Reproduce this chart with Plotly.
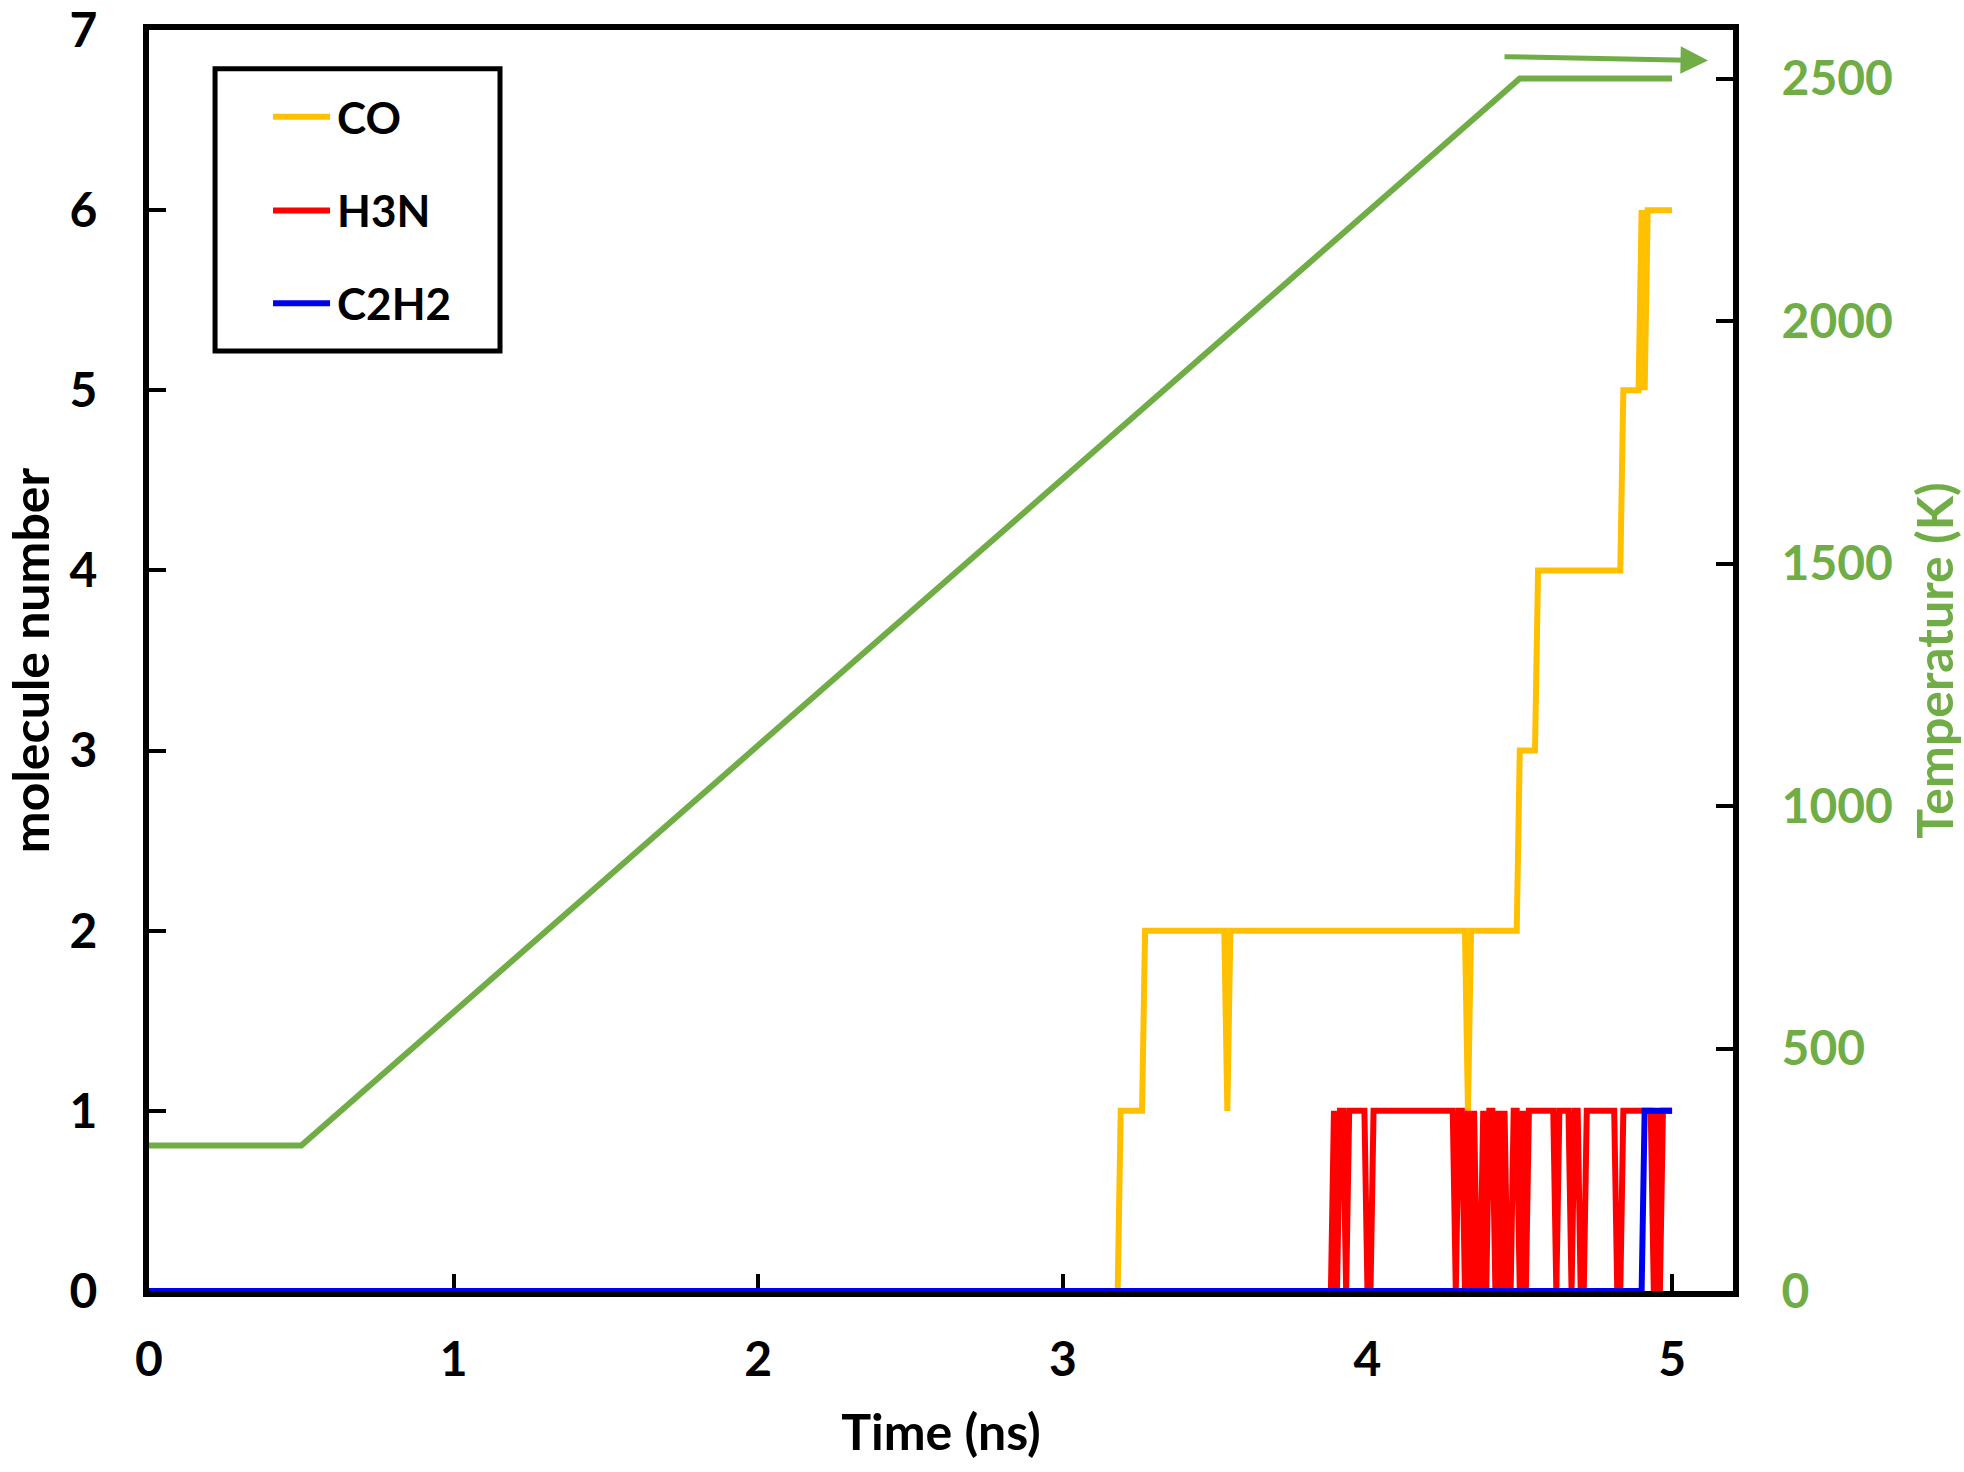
import plotly.graph_objects as go

# ---------------- data ----------------
temp_time = [0.0, 0.5, 4.5, 5.0]
temp_value = [300, 300, 2500, 2500]

co_time = [0.00, 3.18, 3.19, 3.26, 3.27, 3.53, 3.54, 3.55, 4.32, 4.33, 4.34,
           4.49, 4.50, 4.55, 4.56, 4.83, 4.84, 4.89, 4.90, 4.91, 4.92, 5.00]
co_value = [0, 0, 1, 1, 2, 2, 1, 2, 2, 1, 2,
            2, 3, 3, 4, 4, 5, 5, 6, 5, 6, 6]

h3n_time = [0.00, 3.88, 3.89, 3.90, 3.91, 3.92, 3.93, 3.94,
            3.99, 4.00, 4.01, 4.02,
            4.28, 4.29, 4.30,
            4.31, 4.32, 4.33, 4.34, 4.35, 4.36, 4.37, 4.38, 4.39, 4.40,
            4.41, 4.42, 4.43, 4.44, 4.45, 4.46, 4.47, 4.48,
            4.49, 4.50, 4.51, 4.52, 4.53,
            4.61, 4.62, 4.63,
            4.66, 4.67, 4.68, 4.69, 4.70, 4.71, 4.72,
            4.81, 4.82, 4.83, 4.84,
            4.93, 4.94, 4.95, 4.96, 4.97, 5.00]
h3n_value = [0, 0, 1, 0, 1, 1, 0, 1,
             1, 0, 0, 1,
             1, 0, 1,
             1, 0, 1, 0, 1, 0, 0, 1, 0, 1,
             1, 0, 1, 0, 1, 0, 0, 1,
             1, 0, 1, 0, 1,
             1, 0, 1,
             1, 0, 1, 1, 0, 0, 1,
             1, 0, 0, 1,
             1, 0, 1, 0, 1, 1]

c2h2_time = [0.00, 4.90, 4.91, 5.00]
c2h2_value = [0, 0, 1, 1]

series_names = ["CO", "H3N", "C2H2"]

x_ticks = [0, 1, 2, 3, 4, 5]
y_ticks = [0, 1, 2, 3, 4, 5, 6, 7]
t_ticks = [0, 500, 1000, 1500, 2000, 2500]

# ---------------- styles ----------------
GREEN = "#70AD47"
GOLD = "#FFC000"
RED = "#FF0000"
BLUE = "#0000F0"
FONT = "Lato"
LW = 6

def f(size, color="black"):
    return dict(family=FONT, size=size, color=color, weight="bold")

fig = go.Figure()
fig.add_trace(go.Scatter(x=temp_time, y=temp_value, mode="lines", yaxis="y2",
                         line=dict(color=GREEN, width=LW), showlegend=False,
                         name="Temperature"))
series = [(co_time, co_value, GOLD), (h3n_time, h3n_value, RED),
          (c2h2_time, c2h2_value, BLUE)]
for name, (tx, vy, col) in zip(series_names, series):
    fig.add_trace(go.Scatter(x=tx, y=vy, mode="lines", name=name,
                             line=dict(color=col, width=LW), showlegend=False))

# arrow pointing to the right (temperature) axis
fig.add_annotation(x=5.118, y=2537, ax=4.445, ay=2545, xref="x", yref="y2",
                   axref="x", ayref="y2", text="", showarrow=True,
                   arrowhead=2, arrowsize=1.1, arrowwidth=5, arrowcolor=GREEN)

# legend box (drawn manually to match the boxed Excel-style legend)
fig.add_shape(type="rect", xref="paper", yref="paper",
              x0=0.0417, x1=0.2216, y0=0.7455, y1=0.9692,
              line=dict(color="black", width=5), fillcolor="white", layer="above")
legend_y = [0.9312, 0.8569, 0.7834]
for name, (_, _, col), ly in zip(series_names, series, legend_y):
    fig.add_shape(type="line", xref="paper", yref="paper",
                  x0=0.0783, x1=0.1143, y0=ly, y1=ly,
                  line=dict(color=col, width=LW), layer="above")
    fig.add_annotation(x=0.1174, y=ly, xref="paper", yref="paper", text=name,
                       showarrow=False, xanchor="left", yanchor="middle",
                       font=f(44))

axis_common = dict(ticks="inside", ticklen=17, tickwidth=4, tickcolor="black",
                   showline=True, linewidth=LW, linecolor="black",
                   showgrid=False, zeroline=False, automargin=False,
                   ticklabeloverflow="allow")

fig.update_layout(
    width=1964, height=1472,
    paper_bgcolor="white", plot_bgcolor="white",
    margin=dict(l=149, r=231, t=30, b=181),
    font=f(44),
    showlegend=False,
    xaxis=dict(range=[0, 5.2], tickvals=x_ticks, mirror=True,
               tickfont=f(48), ticklabelstandoff=21, layer="below traces",
               title=dict(text="Time (ns)", font=f(50), standoff=32),
               **axis_common),
    yaxis=dict(range=[0, 7.0001], tickvals=y_ticks,
               tickfont=f(48), ticklabelstandoff=36,
               title=dict(text="molecule number", font=f(50), standoff=42),
               **axis_common),
    yaxis2=dict(range=[0, 2600], tickvals=t_ticks, overlaying="y", side="right",
                tickfont=f(48, GREEN), ticklabelstandoff=33,
                title=dict(text="Temperature (K)", font=f(50, GREEN), standoff=36),
                **axis_common),
)

fig.write_html("out.html", config={"displayModeBar": False},
               post_script="document.body.style.margin='0';document.body.style.overflow='hidden';")
